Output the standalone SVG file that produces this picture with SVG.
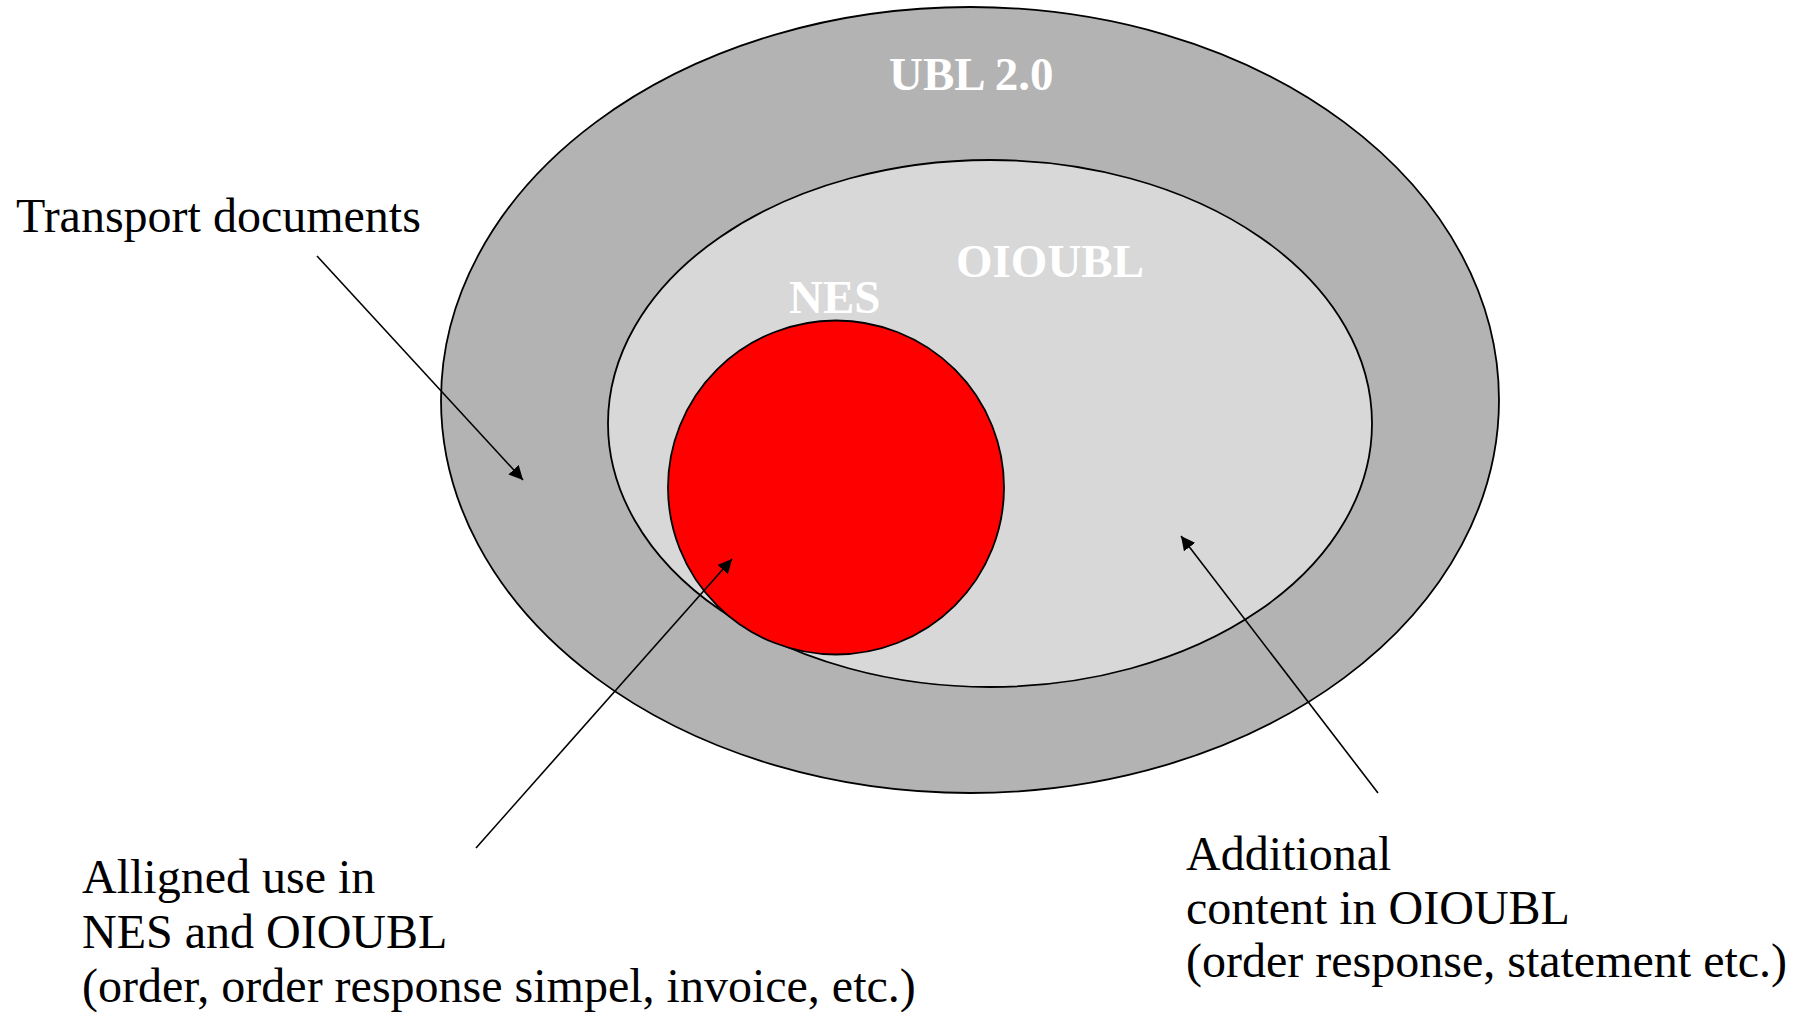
<svg xmlns="http://www.w3.org/2000/svg" width="1806" height="1012" viewBox="0 0 1806 1012">
<style>
.shape{stroke:#000;stroke-width:1.8}
.lbl{font-family:"Liberation Serif","Times New Roman",serif;font-size:47px;font-weight:bold;fill:#fff}
.txt{font-family:"Liberation Serif","Times New Roman",serif;font-size:48px;fill:#000}
.conn{stroke:#000;stroke-width:1.6;fill:none;marker-end:url(#ah)}
</style>
<defs>
<marker id="ah" viewBox="0 0 10 10" refX="10" refY="5" markerWidth="14" markerHeight="14" markerUnits="userSpaceOnUse" orient="auto">
<path d="M0,0 L10,5 L0,10 z" fill="#000"/>
</marker>
</defs>
<rect width="1806" height="1012" fill="#fff"/>
<g id="ubl">
<ellipse class="shape" cx="970" cy="400" rx="529" ry="393" fill="#b3b3b3"/>
<text class="lbl" x="889" y="90">UBL 2.0</text>
</g>
<g id="oioubl">
<ellipse class="shape" cx="990" cy="423.5" rx="382" ry="263.5" fill="#d8d8d8"/>
<text class="lbl" x="956" y="277">OIOUBL</text>
</g>
<g id="nes">
<ellipse class="shape" cx="836" cy="487.5" rx="168" ry="167" fill="#ff0000"/>
<text class="lbl" x="789" y="313">NES</text>
</g>
<g id="connectors">
<line class="conn" x1="317" y1="256" x2="523" y2="480"/>
<line class="conn" x1="476" y1="848" x2="732" y2="559"/>
<line class="conn" x1="1378" y1="793" x2="1181" y2="536"/>
</g>
<g id="transport">
<text class="txt" x="16" y="232">Transport documents</text>
</g>
<g id="aligned">
<text class="txt" x="82" y="893">Alligned use in</text>
<text class="txt" x="82" y="948">NES and OIOUBL</text>
<text class="txt" x="82" y="1002">(order, order response simpel, invoice, etc.)</text>
</g>
<g id="additional">
<text class="txt" x="1186" y="870">Additional</text>
<text class="txt" x="1186" y="924">content in OIOUBL</text>
<text class="txt" x="1186" y="977">(order response, statement etc.)</text>
</g>
</svg>
